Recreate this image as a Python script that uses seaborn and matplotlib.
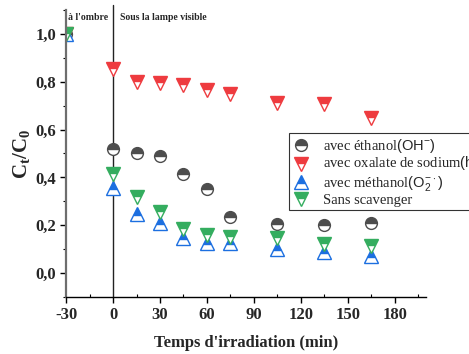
import matplotlib
matplotlib.use("Agg")
import matplotlib.pyplot as plt
import matplotlib.ticker as mticker
import seaborn as sns
import pandas as pd

# Irradiation times (min); -30 is the dark adsorption step
temps = [-30, 0, 15, 30, 45, 60, 75, 105, 135, 165]

ethanol = [1.0, 0.52, 0.50, 0.49, 0.415, 0.35, 0.235, 0.205, 0.20, 0.21]
oxalate = [1.0, 0.855, 0.80, 0.795, 0.785, 0.765, 0.75, 0.71, 0.705, 0.65]
methanol = [1.0, 0.355, 0.245, 0.21, 0.145, 0.125, 0.125, 0.10, 0.09, 0.07]
sans_scav = [1.0, 0.415, 0.32, 0.255, 0.185, 0.16, 0.15, 0.145, 0.12, 0.115]

labels = [
    r"avec éthanol$\mathsf{(OH^{-})}$",
    r"avec oxalate de sodium$\mathsf{(h^{+})}$",
    r"avec méthanol$\mathsf{(O_{2}^{-\cdot})}$",
    "Sans scavenger",
]
series = [ethanol, oxalate, methanol, sans_scav]
colors = ["#4d4d4d", "#ee3b3f", "#1c6fe0", "#34ad5f"]
markers = ["o", "v", "^", "v"]
sizes = [8.5, 9.5, 9.5, 9.5]

sns.set_theme(style="white")
plt.rcParams["font.family"] = ["Liberation Serif", "DejaVu Serif"]
plt.rcParams["mathtext.fontset"] = "custom"
plt.rcParams["mathtext.rm"] = "Liberation Serif"
plt.rcParams["mathtext.sf"] = "Liberation Sans"
plt.rcParams["axes.unicode_minus"] = False

fig = plt.figure(figsize=(4.69, 3.54), dpi=100)
ax = fig.add_axes([0.141, 0.161, 0.767, 0.811])

for vals, lab, col, mk, ms in zip(series, labels, colors, markers, sizes):
    df = pd.DataFrame({"t": temps, "c": vals})
    sns.lineplot(
        data=df, x="t", y="c", ax=ax, label=lab,
        linestyle="", marker=mk, markersize=ms,
        color=col, markerfacecolor=col, markeredgecolor=col,
        fillstyle="top", markerfacecoloralt="white", markeredgewidth=1.0,
    )

ax.set_xlim(-30, 200)
ax.set_ylim(-0.1, 1.1)
ax.xaxis.set_major_locator(mticker.MultipleLocator(30))
ax.xaxis.set_minor_locator(mticker.MultipleLocator(15))
ax.yaxis.set_major_locator(mticker.FixedLocator([0.0, 0.2, 0.4, 0.6, 0.8, 1.0]))
ax.yaxis.set_minor_locator(mticker.FixedLocator([-0.1, 0.1, 0.3, 0.5, 0.7, 0.9, 1.1]))
ax.yaxis.set_major_formatter(mticker.FuncFormatter(lambda v, p: f"{v:.1f}".replace(".", ",")))

for side in ("top", "right"):
    ax.spines[side].set_visible(False)
ax.spines["left"].set_color("#6e6e6e")
ax.spines["left"].set_linewidth(1.6)
ax.spines["bottom"].set_color("black")
ax.spines["bottom"].set_linewidth(1.0)

ax.tick_params(axis="both", which="major", direction="out", length=4, width=1,
               labelsize=12, color="black", bottom=True, left=True, pad=3)
ax.tick_params(axis="y", which="minor", direction="out", length=2.5, width=0.8,
               color="black", left=True)
ax.tick_params(axis="x", which="minor", direction="in", length=2.5, width=0.8,
               color="black", bottom=True)
for lbl in ax.get_xticklabels() + ax.get_yticklabels():
    lbl.set_fontweight("bold")

# Separation between dark and light phases
ax.plot([0, 0], [-0.1, 1.12], color="#222222", lw=1.0, clip_on=False, zorder=1)
ax.text(-29, 1.067, "à l'ombre", fontsize=7, fontweight="bold", va="center", ha="left")
ax.text(4.5, 1.067, "Sous la lampe visible", fontsize=7, fontweight="bold", va="center", ha="left")

ax.set_xlabel("Temps d'irradiation (min)", fontsize=12, fontweight="bold", labelpad=9)
ax.set_ylabel(r"C$_\mathregular{t}$/C$_\mathregular{0}$", fontsize=15, fontweight="bold",
              labelpad=2)

# Legend box runs past the right edge of the figure
leg = ax.legend(loc="upper left", bbox_to_anchor=(0.616, 0.624),
                bbox_transform=fig.transFigure, frameon=True, fancybox=False,
                edgecolor="black", fontsize=10.5, borderpad=0.25, labelspacing=0.02,
                handletextpad=0.9, handlelength=1.2, borderaxespad=0)
leg.get_frame().set_linewidth(0.8)

fig.savefig("out.png", dpi=100)
